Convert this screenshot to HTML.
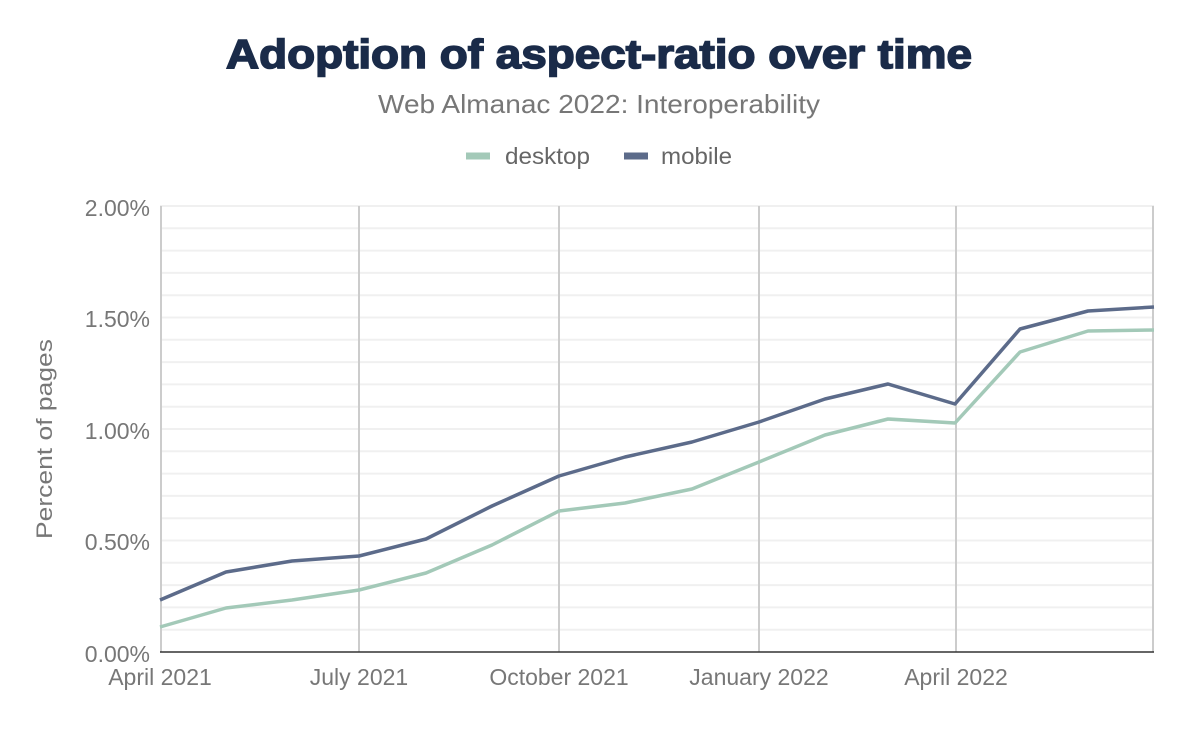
<!DOCTYPE html>
<html><head><meta charset="utf-8"><style>
body{margin:0;background:#fff;width:1200px;height:742px;overflow:hidden}
svg text{font-family:"Liberation Sans",sans-serif}
</style></head><body>
<svg width="1200" height="742" viewBox="0 0 1200 742" xmlns="http://www.w3.org/2000/svg">
<text x="226" y="68" font-size="41" font-weight="900" fill="#1a2b49" stroke="#1a2b49" stroke-width="1.6" textLength="746" lengthAdjust="spacingAndGlyphs">Adoption of aspect-ratio over time</text>
<text x="378" y="113" font-size="26" fill="#777" textLength="442" lengthAdjust="spacingAndGlyphs">Web Almanac 2022: Interoperability</text>
<line x1="466" y1="156" x2="490" y2="156" stroke="#a3c9b8" stroke-width="7"/>
<text x="505" y="164" font-size="23" fill="#666" textLength="85" lengthAdjust="spacingAndGlyphs">desktop</text>
<line x1="624" y1="156" x2="648" y2="156" stroke="#5c6b8a" stroke-width="7"/>
<text x="661" y="164" font-size="23" fill="#666" textLength="71" lengthAdjust="spacingAndGlyphs">mobile</text>
<g stroke="#f0f0f0" stroke-width="2">
<line x1="160" y1="206" x2="1154" y2="206"/><line x1="160" y1="228.3" x2="1154" y2="228.3"/><line x1="160" y1="250.6" x2="1154" y2="250.6"/><line x1="160" y1="272.9" x2="1154" y2="272.9"/><line x1="160" y1="295.2" x2="1154" y2="295.2"/><line x1="160" y1="317.5" x2="1154" y2="317.5"/><line x1="160" y1="339.8" x2="1154" y2="339.8"/><line x1="160" y1="362.1" x2="1154" y2="362.1"/><line x1="160" y1="384.4" x2="1154" y2="384.4"/><line x1="160" y1="406.7" x2="1154" y2="406.7"/><line x1="160" y1="429" x2="1154" y2="429"/><line x1="160" y1="451.3" x2="1154" y2="451.3"/><line x1="160" y1="473.6" x2="1154" y2="473.6"/><line x1="160" y1="495.9" x2="1154" y2="495.9"/><line x1="160" y1="518.2" x2="1154" y2="518.2"/><line x1="160" y1="540.5" x2="1154" y2="540.5"/><line x1="160" y1="562.8" x2="1154" y2="562.8"/><line x1="160" y1="585.1" x2="1154" y2="585.1"/><line x1="160" y1="607.4" x2="1154" y2="607.4"/><line x1="160" y1="629.7" x2="1154" y2="629.7"/>
</g>
<g stroke="#ccc" stroke-width="2">
<line x1="161" y1="206" x2="161" y2="652"/><line x1="359" y1="206" x2="359" y2="652"/><line x1="559" y1="206" x2="559" y2="652"/><line x1="759" y1="206" x2="759" y2="652"/><line x1="956" y1="206" x2="956" y2="652"/><line x1="1153" y1="206" x2="1153" y2="652"/>
</g>
<line x1="160" y1="652" x2="1154" y2="652" stroke="#333" stroke-width="1.5"/>
<g font-size="23" fill="#777" text-anchor="end">
<text x="150" y="216">2.00%</text><text x="150" y="327">1.50%</text><text x="150" y="439">1.00%</text><text x="150" y="550">0.50%</text><text x="150" y="662">0.00%</text>
</g>
<g font-size="23" fill="#777" text-anchor="middle">
<text x="160" y="685">April 2021</text><text x="359" y="685">July 2021</text><text x="559" y="685">October 2021</text><text x="759" y="685">January 2022</text><text x="956" y="685">April 2022</text>
</g>
<text transform="translate(52,439) rotate(-90)" text-anchor="middle" font-size="22" fill="#777" textLength="200" lengthAdjust="spacingAndGlyphs">Percent of pages</text>
<polyline fill="none" stroke="#a3c9b8" stroke-width="3.5" stroke-linejoin="round" points="160,627 226,608 292,600 359,590 426,573 492,545 559,511 625,503 692,489 759,462 825,435 888,419 955,423 1020,352 1088,331 1154,330"/>
<polyline fill="none" stroke="#5c6b8a" stroke-width="3.5" stroke-linejoin="round" points="160,600 226,572 292,561 359,556 426,539 492,506 559,476 625,457 692,442 759,422 825,399 888,384 955,404 1020,329 1088,311 1154,307"/>
</svg>
</body></html>
